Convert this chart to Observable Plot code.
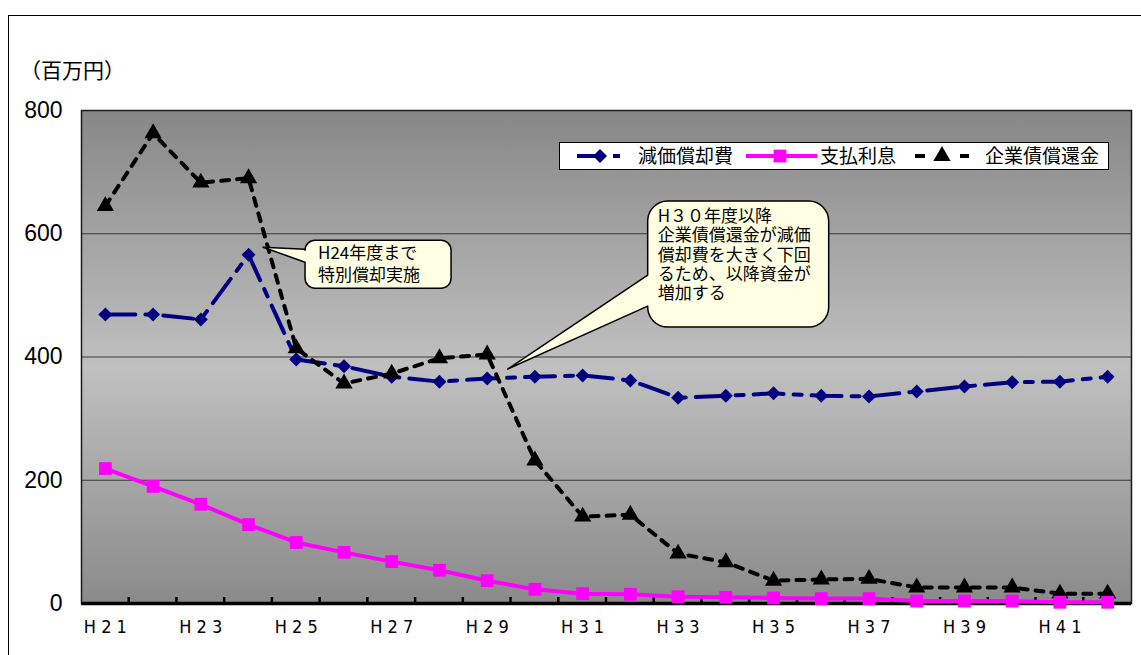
<!DOCTYPE html>
<html>
<head>
<meta charset="utf-8">
<script src="https://cdn.jsdelivr.net/npm/d3@7"></script>
<script src="https://cdn.jsdelivr.net/npm/@observablehq/plot@0.6"></script>
<style>
  body { margin: 0; background: #fff; overflow: hidden; }
  #wrap { position: relative; width: 1141px; height: 655px; overflow: hidden; }
  #frame { position: absolute; left: 8px; top: 15px; width: 1300px; height: 800px; border: 1px solid #000; box-sizing: border-box; }
  #unit { position: absolute; left: 20px; top: 59px; font: 21px/21px "Noto Sans CJK JP", sans-serif; color: #000; }
  #chart svg { position: absolute; left: 0; top: 0; }
  #legend { position: absolute; left: 559px; top: 142px; }
</style>
</head>
<body>
<div id="wrap">
  <div id="frame"></div>
  <div id="unit">（百万円）</div>
  <div id="chart"></div>
  <div id="legend"></div>
</div>
<script>
// Fiscal years (Heisei)
const years = ["H21","H22","H23","H24","H25","H26","H27","H28","H29","H30","H31",
               "H32","H33","H34","H35","H36","H37","H38","H39","H40","H41","H42"];

// 減価償却費 (million yen)
const depreciation = [469,469,461,566,396,385,368,360,365,368,370,362,334,337,341,337,336,344,352,359,360,368];
// 支払利息 (million yen)
const interest = [219,190,161,128,99,83,68,54,37,23,16,15,11,10,9,8,8,4,4,4,2,2];
// 企業債償還金 (million yen)
const bondRedemption = [645,763,683,690,414,357,373,398,404,232,141,144,81,67,37,39,40,26,26,26,16,16];

const seriesNames = ["減価償却費", "支払利息", "企業債償還金"];
const yTicks = [0, 200, 400, 600, 800];
const xTickLabels = years.filter((d, i) => i % 2 === 0);

const callout1Lines = ["H24年度まで", "特別償却実施"];
const callout2Lines = ["H３０年度以降", "企業債償還金が減価", "償却費を大きく下回", "るため、以降資金が", "増加する"];

const NS = "http://www.w3.org/2000/svg";
const el = (tag, attrs = {}) => {
  const e = document.createElementNS(NS, tag);
  for (const [k, v] of Object.entries(attrs)) e.setAttribute(k, v);
  return e;
};

const styles = {
  dep:  {stroke: "#000080", strokeWidth: 4, dash: "30,10,8,10", symbol: "diamond2", r: 6.3},
  int:  {stroke: "#ff00ff", strokeWidth: 4, dash: null,         symbol: "square",   r: 7.2},
  bond: {stroke: "#000000", strokeWidth: 4, dash: "8,8",        symbol: "triangle", r: 6.4}
};

const toRows = (vals) => years.map((year, i) => ({year, value: vals[i]}));
const depRows = toRows(depreciation);
const intRows = toRows(interest);
const bondRows = toRows(bondRedemption);

// Vertical gradient behind the plotting area
const gradientDefs = () => {
  const defs = el("defs");
  const g = el("linearGradient", {id: "plotBg", x1: 0, y1: 0, x2: 0, y2: 1});
  [["0", "#878787"], ["0.52", "#c0c0c0"], ["1", "#8a8a8a"]].forEach(([o, c]) =>
    g.appendChild(el("stop", {offset: o, "stop-color": c})));
  defs.appendChild(g);
  return defs;
};

// Category boundary tick marks along the x axis (pointing up into the plot)
const boundaryTicks = (index, {x, y}) => {
  const g = el("g", {stroke: "#000", "stroke-width": 2.5});
  const step = x(years[1]) - x(years[0]);
  const y0 = y(0);
  for (let i = 1; i < years.length; i++) {
    const bx = x(years[i]) - step / 2;
    g.appendChild(el("line", {x1: bx, x2: bx, y1: y0, y2: y0 - 6}));
  }
  return g;
};

// Speech-balloon annotation anchored on a data point
function callout({year, value, tip, box, wedge, radius, lines, textX, baseline, lineGap}) {
  return (index, {x, y}) => {
    const ax = x(year), ay = y(value);
    const x0 = ax + box[0], y0 = ay + box[1], x1 = ax + box[2], y1 = ay + box[3];
    const tx = ax + tip[0], ty = ay + tip[1];
    const w0 = ay + wedge[0], w1 = ay + wedge[1];
    const r = radius;
    const d = `M${x0 + r},${y0} H${x1 - r} A${r},${r} 0 0 1 ${x1},${y0 + r} V${y1 - r}` +
              ` A${r},${r} 0 0 1 ${x1 - r},${y1} H${x0 + r} A${r},${r} 0 0 1 ${x0},${y1 - r}` +
              ` V${w1} L${tx},${ty} L${x0},${w0} V${y0 + r} A${r},${r} 0 0 1 ${x0 + r},${y0} Z`;
    const g = el("g");
    g.appendChild(el("path", {d, fill: "#ffffe3", stroke: "#000", "stroke-width": 1.5, "stroke-linejoin": "round"}));
    const t = el("text", {"font-family": "Noto Sans CJK JP, sans-serif", "font-size": 17, fill: "#000",
                          "text-anchor": "start"});
    lines.forEach((s, i) => {
      const ts = el("tspan", {x: ax + textX, y: ay + baseline + i * lineGap});
      ts.textContent = s;
      t.appendChild(ts);
    });
    g.appendChild(t);
    return g;
  };
}

const seriesMarks = (rows, s) => [
  Plot.line(rows, {x: "year", y: "value", stroke: s.stroke, strokeWidth: s.strokeWidth,
                   strokeDasharray: s.dash ?? undefined, strokeLinejoin: "round"}),
  Plot.dot(rows, {x: "year", y: "value", symbol: s.symbol, r: s.r, fill: s.stroke, stroke: null})
];

const chart = Plot.plot({
  width: 1141,
  height: 655,
  marginLeft: 81,
  marginRight: 10,
  marginTop: 110,
  marginBottom: 52,
  style: {background: "transparent", overflow: "visible"},
  x: {type: "point", domain: years, padding: 0.5, round: false},
  y: {domain: [0, 800]},
  marks: [
    gradientDefs,
    Plot.frame({fill: "url(#plotBg)"}),
    Plot.gridY(yTicks.filter(d => d > 0 && d < 800), {stroke: "#383838", strokeOpacity: 1, strokeWidth: 1}),
    Plot.frame({stroke: "#1a1a1a", strokeWidth: 1.5}),
    Plot.ruleY([0], {stroke: "#000", strokeWidth: 3.5}),
    boundaryTicks,
    Plot.axisY({ticks: yTicks, tickSize: 0, tickPadding: 19, fontSize: 23,
                fontFamily: "Liberation Sans, Arial, sans-serif", label: null, tickFormat: d => String(d)}),
    Plot.axisX({ticks: xTickLabels, tickSize: 0, tickPadding: 17, fontSize: 18,
                fontFamily: "Liberation Sans Narrow, DejaVu Sans Condensed, sans-serif", label: null,
                tickFormat: d => d.split("").join(" ")}),
    ...seriesMarks(depRows, styles.dep),
    ...seriesMarks(bondRows, styles.bond),
    ...seriesMarks(intRows, styles.int),
    callout({year: "H24", value: depreciation[3], tip: [15, -7], box: [57, -14, 203, 34],
             wedge: [-5, 8], radius: 10, lines: callout1Lines, textX: 70, baseline: 5, lineGap: 22}),
    callout({year: "H29", value: depreciation[8], tip: [21, -9], box: [161, -177, 342, -51],
             wedge: [-103, -72], radius: 20, lines: callout2Lines, textX: 171, baseline: -156, lineGap: 19.3})
  ]
});
document.getElementById("chart").appendChild(chart);

// Legend box
(function legend() {
  const svg = el("svg", {width: 550, height: 28});
  svg.appendChild(el("rect", {x: 0.5, y: 0.5, width: 549, height: 27, fill: "#fff", stroke: "#000", "stroke-width": 1}));
  const cy = 14;
  const sym = (type, cx, r, fill) => {
    const size = Math.PI * r * r;
    const s = {diamond2: d3.symbolDiamond2, square: d3.symbolSquare, triangle: d3.symbolTriangle}[type];
    return el("path", {d: d3.symbol(s, size)(), transform: `translate(${cx},${cy})`, fill});
  };
  const items = [
    {s: styles.dep,  x1: 18,  x2: 62,  dash: "23,13,7,100", mx: 41,  tx: 79},
    {s: styles.int,  x1: 187, x2: 258, dash: null,          mx: 221, tx: 261},
    {s: styles.bond, x1: 356, x2: 410, dash: "10,35,9,100", mx: 383, tx: 426}
  ];
  items.forEach((it, i) => {
    const line = el("line", {x1: it.x1, x2: it.x2, y1: cy, y2: cy, stroke: it.s.stroke, "stroke-width": it.s.strokeWidth});
    if (it.dash) line.setAttribute("stroke-dasharray", it.dash);
    svg.appendChild(line);
    svg.appendChild(sym(it.s.symbol, it.mx, it.s.r, it.s.stroke));
    const t = el("text", {x: it.tx, y: cy + 7, "font-family": "Noto Sans CJK JP, sans-serif", "font-size": 19, fill: "#000"});
    t.textContent = seriesNames[i];
    svg.appendChild(t);
  });
  document.getElementById("legend").appendChild(svg);
})();
</script>
</body>
</html>
